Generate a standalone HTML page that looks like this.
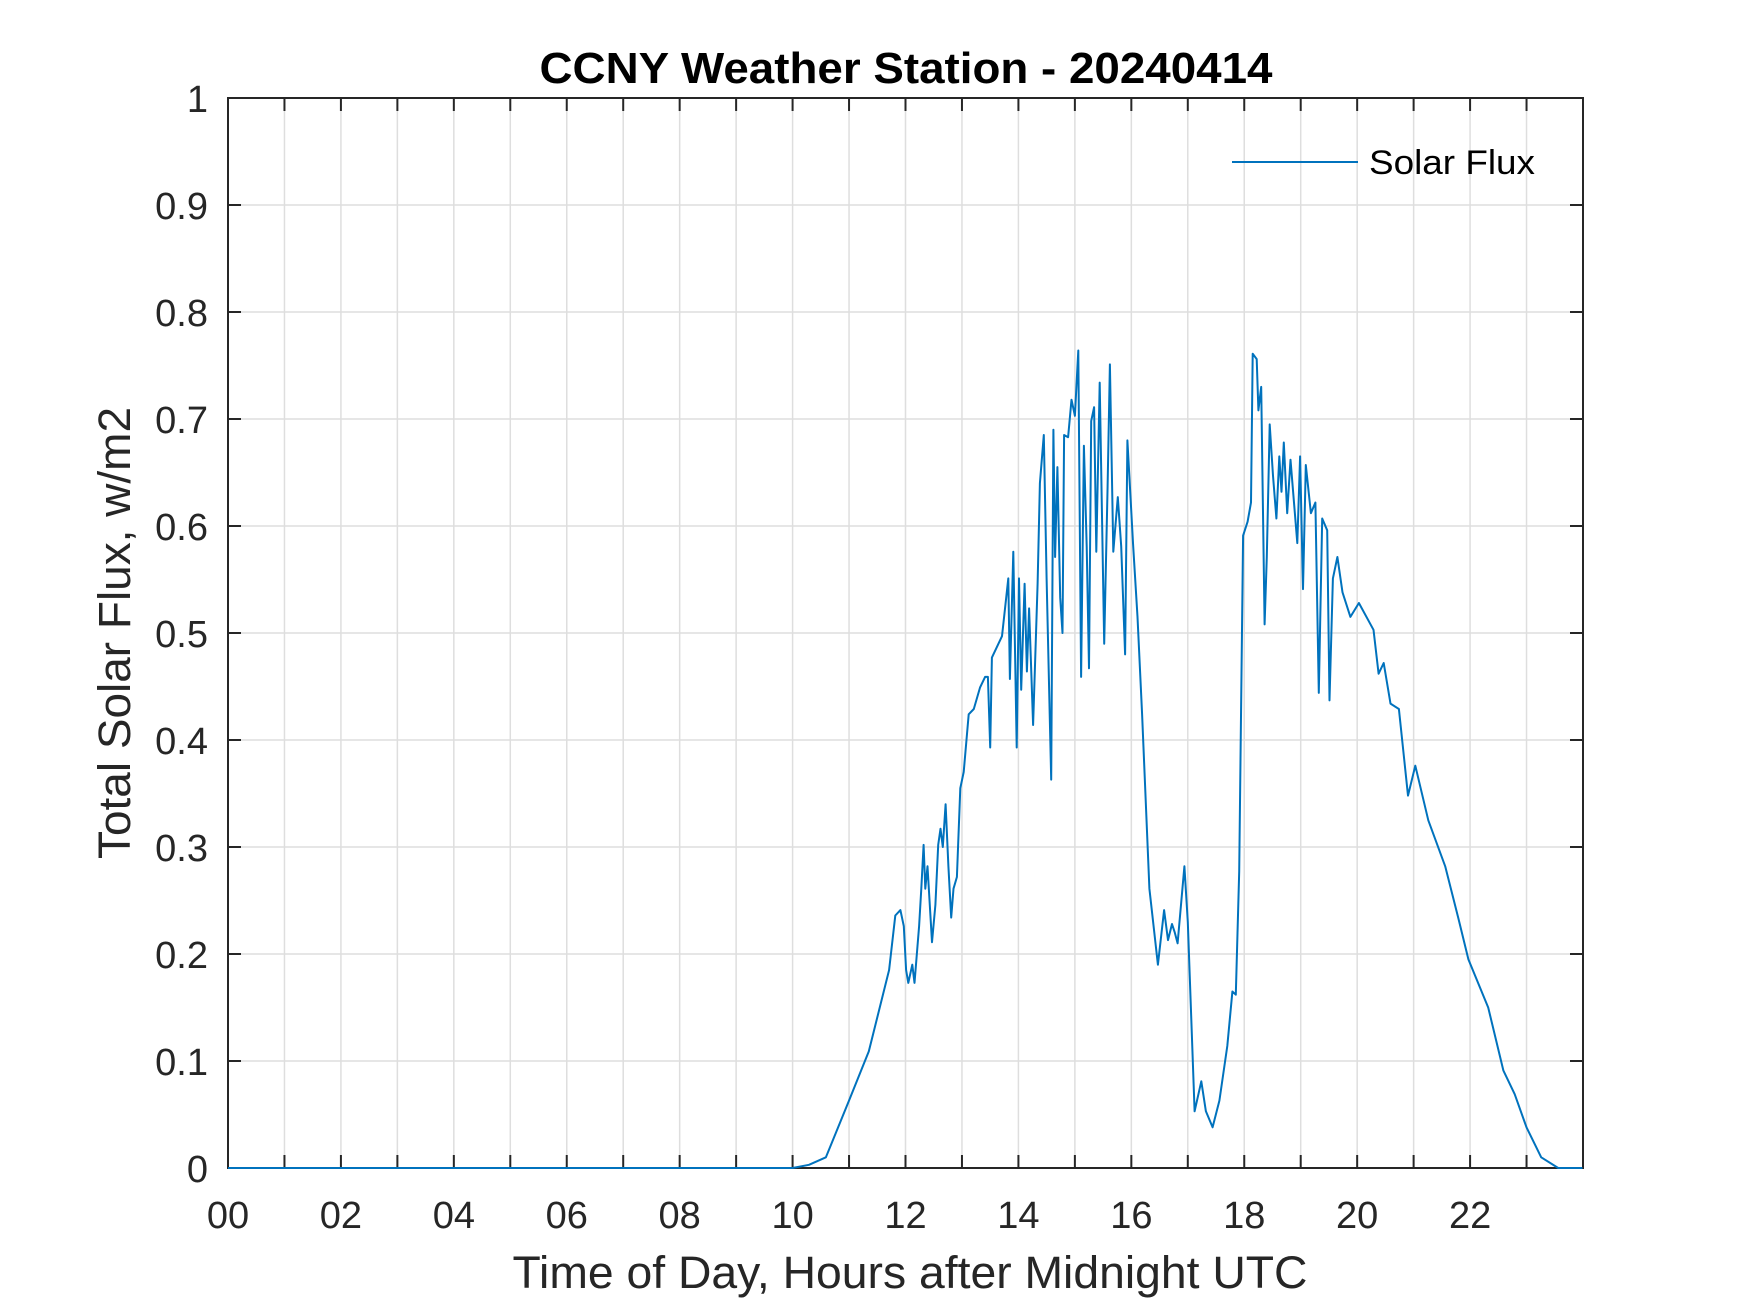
<!DOCTYPE html>
<html><head><meta charset="utf-8"><style>
html,body{margin:0;padding:0;background:#fff;}
svg{display:block;font-family:"Liberation Sans",Arial,sans-serif;}
</style></head><body>
<svg id="chart" width="1750" height="1313" viewBox="0 0 1750 1313" xmlns="http://www.w3.org/2000/svg">
<rect x="0" y="0" width="1750" height="1313" fill="#fff"/>
<g id="grid"></g>
<g id="ticks"></g>
<rect x="228" y="98" width="1355" height="1070" fill="none" stroke="#262626" stroke-width="2"/>
<g id="series"></g>
<g id="labels"></g>
<text x="906" y="83" text-anchor="middle" font-weight="bold" font-size="44" textLength="733" lengthAdjust="spacingAndGlyphs" fill="#000">CCNY Weather Station - 20240414</text>
<text x="910" y="1288" text-anchor="middle" font-size="45" textLength="795" lengthAdjust="spacingAndGlyphs" fill="#262626">Time of Day, Hours after Midnight UTC</text>
<text x="0" y="0" transform="translate(130,633) rotate(-90)" text-anchor="middle" font-size="45" textLength="452" lengthAdjust="spacingAndGlyphs" fill="#262626">Total Solar Flux, w/m2</text>
<g>
<line x1="1232" y1="162" x2="1358" y2="162" stroke="#0072BD" stroke-width="2"/>
<text x="1369" y="174" font-size="34" textLength="166" lengthAdjust="spacingAndGlyphs" fill="#000">Solar Flux</text>
</g>
</svg>
<script>
const hours = [0,10.0,10.29,10.59,11.0,11.35,11.71,11.82,11.91,11.97,12.01,12.05,12.12,12.16,12.24,12.28,12.32,12.35,12.39,12.47,12.53,12.58,12.62,12.66,12.71,12.76,12.81,12.85,12.91,12.97,13.03,13.12,13.21,13.32,13.41,13.46,13.5,13.53,13.71,13.82,13.85,13.91,13.97,14.01,14.05,14.11,14.15,14.19,14.26,14.34,14.38,14.45,14.5,14.58,14.62,14.65,14.69,14.74,14.78,14.81,14.88,14.94,15.0,15.06,15.11,15.16,15.21,15.25,15.29,15.34,15.38,15.44,15.52,15.58,15.62,15.68,15.76,15.82,15.89,15.93,15.99,16.03,16.11,16.19,16.32,16.47,16.58,16.65,16.72,16.77,16.82,16.94,17.0,17.12,17.24,17.32,17.44,17.56,17.7,17.79,17.85,17.91,17.98,18.06,18.12,18.15,18.22,18.25,18.3,18.36,18.4,18.45,18.51,18.57,18.62,18.66,18.7,18.76,18.82,18.94,18.99,19.04,19.09,19.18,19.26,19.32,19.38,19.47,19.51,19.57,19.65,19.74,19.88,20.03,20.29,20.38,20.47,20.59,20.74,20.9,21.03,21.26,21.56,21.79,21.97,22.32,22.59,22.79,23.0,23.26,23.56,23.99];
const flux = [0,0,0.003,0.01,0.063,0.109,0.185,0.236,0.241,0.226,0.185,0.173,0.19,0.173,0.226,0.261,0.302,0.261,0.282,0.211,0.246,0.302,0.317,0.3,0.34,0.282,0.234,0.261,0.272,0.355,0.37,0.424,0.429,0.449,0.459,0.459,0.393,0.477,0.497,0.551,0.457,0.576,0.393,0.551,0.447,0.546,0.464,0.523,0.414,0.546,0.64,0.685,0.551,0.363,0.69,0.571,0.655,0.533,0.5,0.685,0.683,0.718,0.703,0.764,0.459,0.675,0.581,0.467,0.698,0.711,0.576,0.734,0.49,0.637,0.751,0.576,0.627,0.581,0.48,0.68,0.622,0.584,0.515,0.424,0.261,0.19,0.241,0.213,0.228,0.22,0.21,0.282,0.23,0.053,0.081,0.053,0.038,0.063,0.114,0.165,0.162,0.277,0.591,0.604,0.622,0.761,0.756,0.708,0.73,0.508,0.571,0.695,0.647,0.607,0.665,0.632,0.678,0.612,0.662,0.584,0.665,0.541,0.657,0.612,0.622,0.444,0.607,0.596,0.437,0.551,0.571,0.538,0.515,0.528,0.503,0.462,0.472,0.434,0.429,0.348,0.376,0.325,0.282,0.234,0.195,0.15,0.091,0.069,0.038,0.01,0,0];
const xTickLabels = ["00","02","04","06","08","10","12","14","16","18","20","22"];
const yTickLabels = ["0","0.1","0.2","0.3","0.4","0.5","0.6","0.7","0.8","0.9","1"];

const NS = "http://www.w3.org/2000/svg";
const L = 228, R = 1583, T = 98, B = 1168;
const xMin = 0, xMax = 24, yMin = 0, yMax = 1;
function sx(h){ return L + (h - xMin) / (xMax - xMin) * (R - L); }
function sy(v){ return B - (v - yMin) / (yMax - yMin) * (B - T); }
function mk(tag, attrs, parent){ const e = document.createElementNS(NS, tag); for (const k in attrs) e.setAttribute(k, attrs[k]); parent.appendChild(e); return e; }

const grid = document.getElementById('grid');
const ticks = document.getElementById('ticks');
const labels = document.getElementById('labels');
for (let h = 1; h < 24; h++) {
  const x = sx(h);
  const g = mk('line', {x1:x, y1:T, x2:x, y2:B, stroke:'#dedede', 'stroke-width':1.5}, grid);
  
  
  const t1 = mk('line', {x1:x, y1:B, x2:x, y2:B-13, stroke:'#262626', 'stroke-width':2}, ticks);
  
  
  const t2 = mk('line', {x1:x, y1:T, x2:x, y2:T+13, stroke:'#262626', 'stroke-width':2}, ticks);
  
  
}
xTickLabels.forEach((lab, i) => {
  const t = mk('text', {x:sx(i*2), y:1228, 'text-anchor':'middle', 'font-size':38, fill:'#262626'}, labels);
  t.textContent = lab;
  
  
});
yTickLabels.forEach((lab, i) => {
  const v = parseFloat(lab);
  const y = sy(v);
  if (i > 0 && i < yTickLabels.length - 1) {
    const g = mk('line', {x1:L, y1:y, x2:R, y2:y, stroke:'#dedede', 'stroke-width':1.5}, grid);
    
    
    const t1 = mk('line', {x1:L, y1:y, x2:L+13, y2:y, stroke:'#262626', 'stroke-width':2}, ticks);
    
    
    const t2 = mk('line', {x1:R, y1:y, x2:R-13, y2:y, stroke:'#262626', 'stroke-width':2}, ticks);
    
    
  }
  const t = mk('text', {x:208, y:y+14, 'text-anchor':'end', 'font-size':38, fill:'#262626'}, labels);
  t.textContent = lab;
  
  
});

const pts = hours.map((h, i) => sx(h).toFixed(1) + ',' + sy(flux[i]).toFixed(1)).join(' ');
const line = mk('polyline', {points:pts, fill:'none', stroke:'#0072BD', 'stroke-width':2, 'stroke-linejoin':'round'}, document.getElementById('series'));


</script>
</body></html>
